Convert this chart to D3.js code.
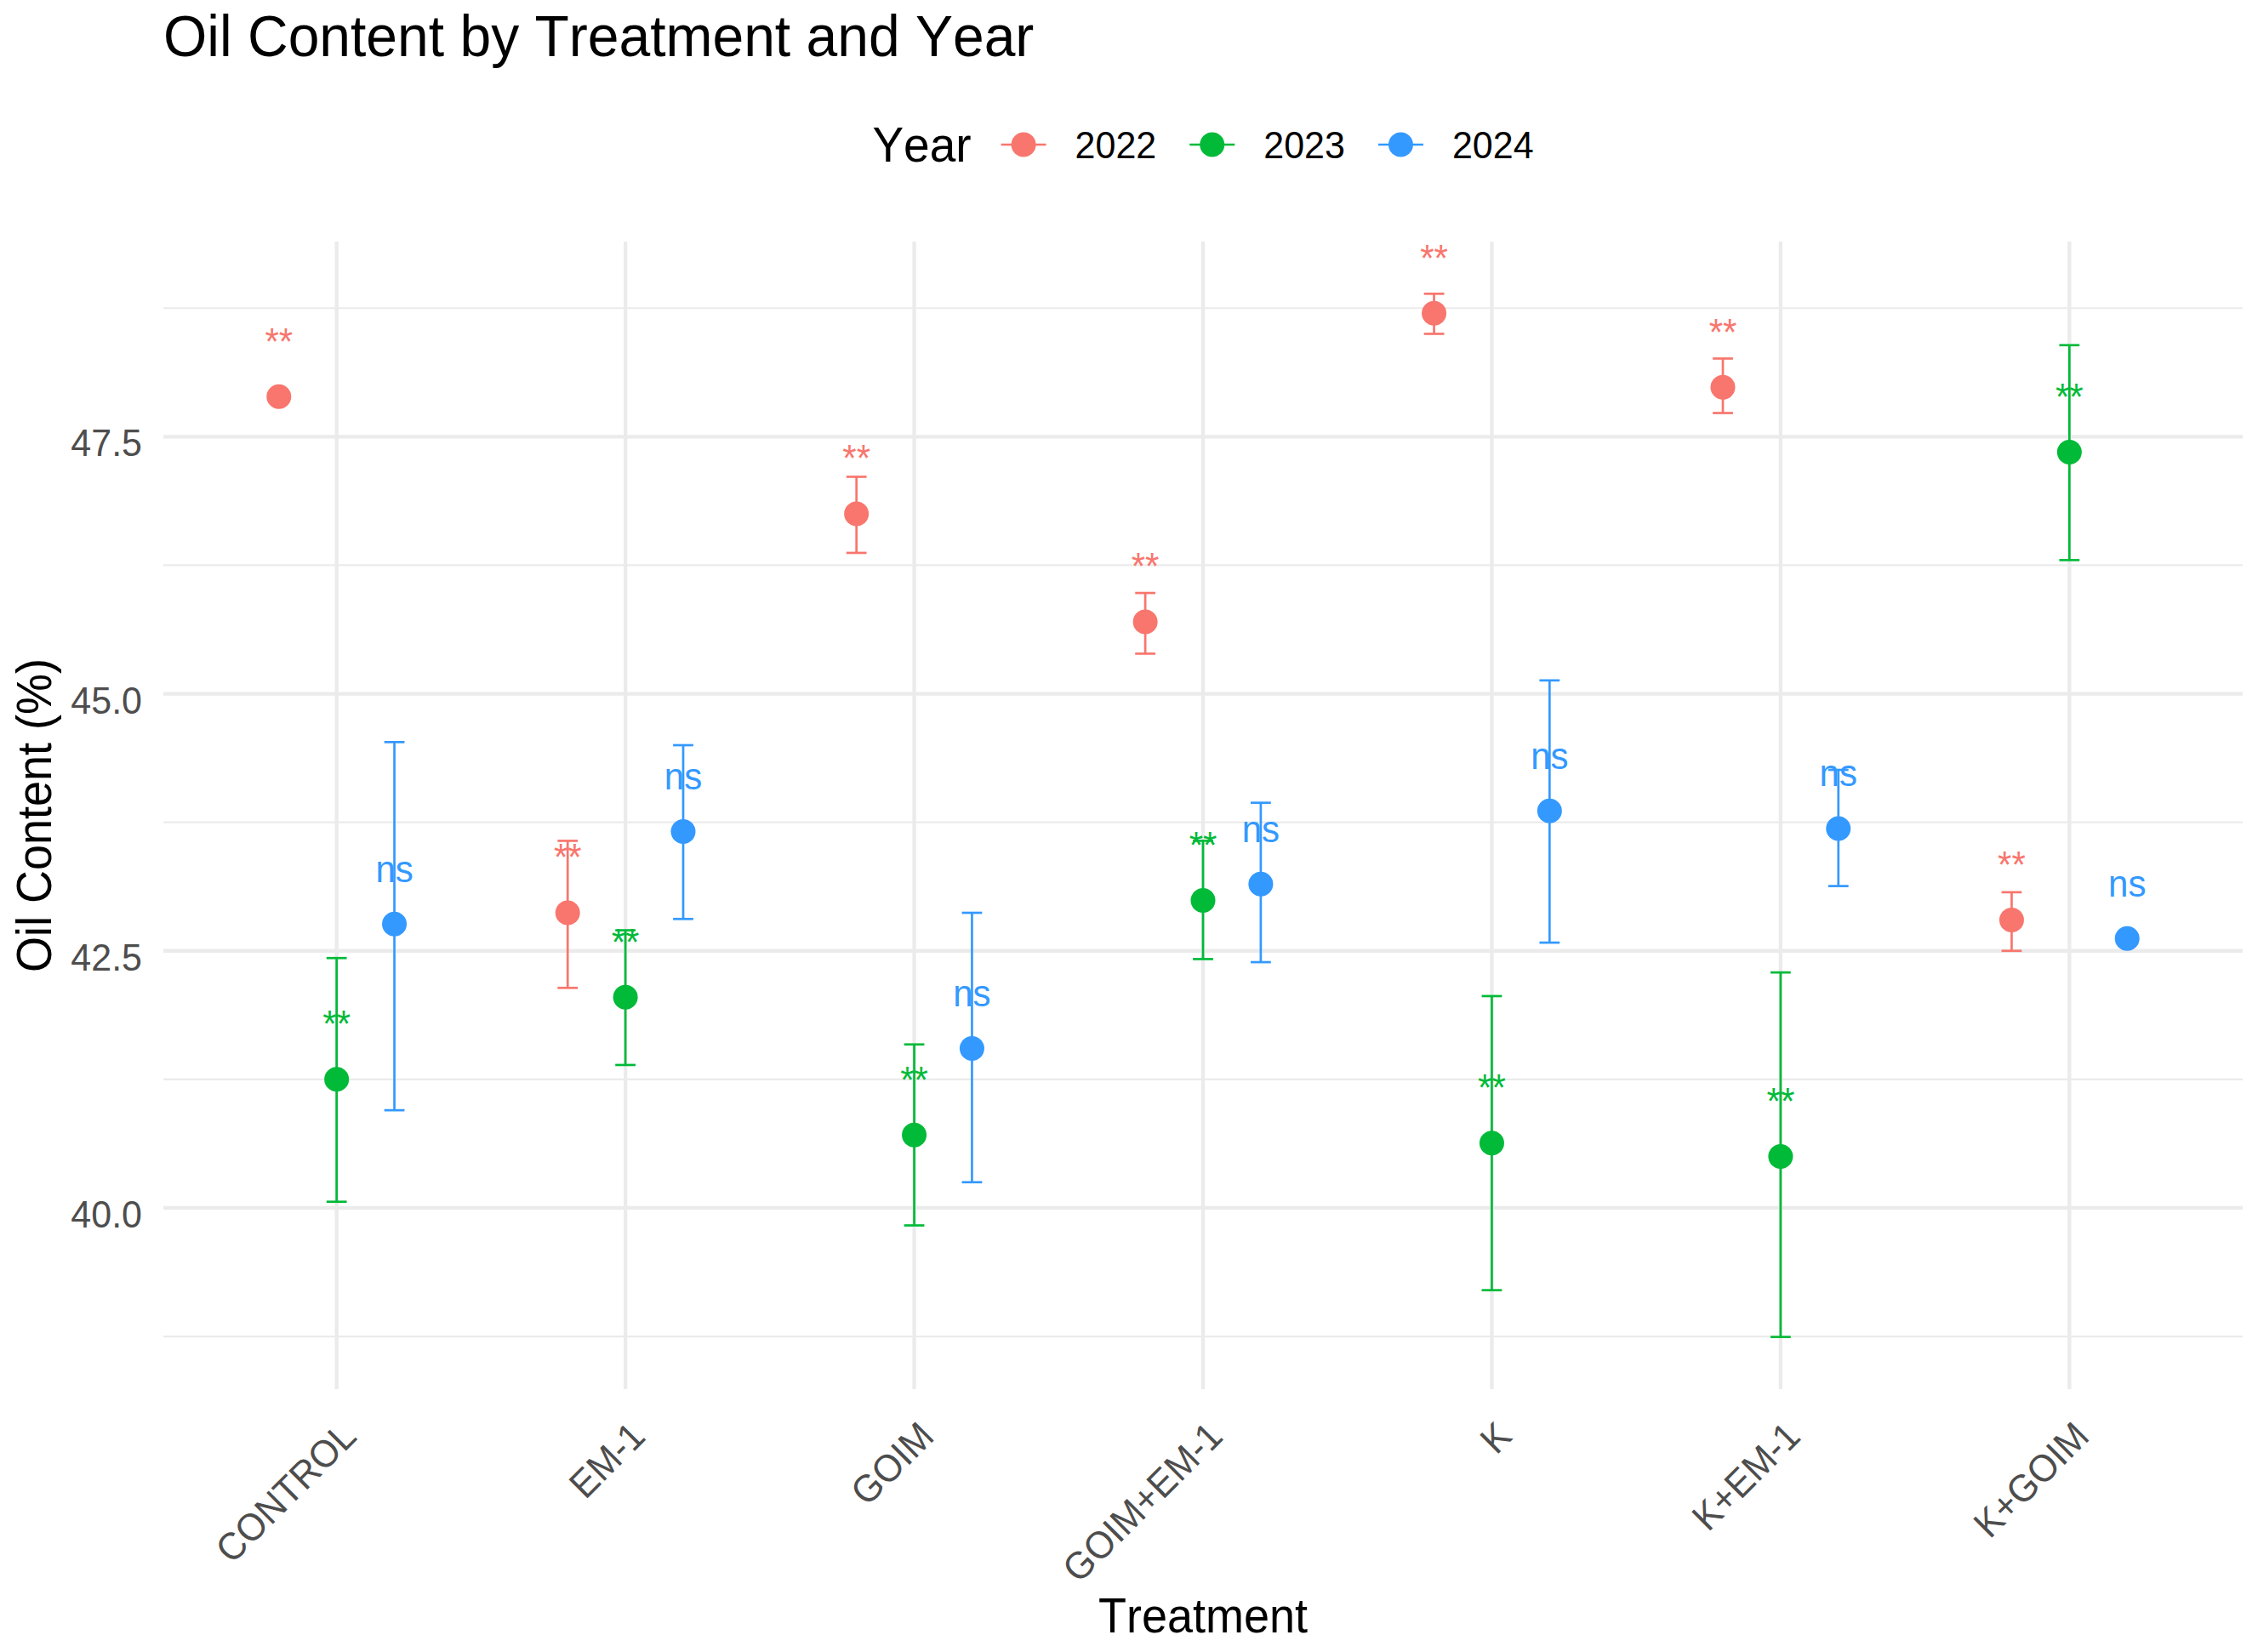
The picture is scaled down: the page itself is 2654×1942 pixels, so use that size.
<!DOCTYPE html>
<html>
<head>
<meta charset="utf-8">
<script src="https://cdn.jsdelivr.net/npm/d3@7"></script>
<style>
  html, body { margin: 0; padding: 0; background: #ffffff; }
  svg { display: block; }
  text { font-family: "Liberation Sans", Arial, sans-serif; font-kerning: none; font-feature-settings: "kern" 0; }
</style>
</head>
<body>
<div id="chart"></div>
<script>
// ---------------- data ----------------
const categories = ["CONTROL", "EM-1", "GOIM", "GOIM+EM-1", "K", "K+EM-1", "K+GOIM"];
const years = ["2022", "2023", "2024"];
const yearColors = ["#F8766D", "#00BA38", "#3399FF"];

const mean2022  = [47.89, 42.87, 46.75, 45.70, 48.70, 47.98, 42.80];
const lower2022 = [null,  42.14, 46.37, 45.39, 48.50, 47.73, 42.50];
const upper2022 = [null,  43.57, 47.11, 45.98, 48.89, 48.26, 43.07];
const sig2022   = ["**", "**", "**", "**", "**", "**", "**"];

const mean2023  = [41.25, 42.05, 40.71, 42.99, 40.63, 40.50, 47.35];
const lower2023 = [40.06, 41.39, 39.83, 42.42, 39.20, 38.745, 46.30];
const upper2023 = [42.43, 42.70, 41.59, 43.57, 42.06, 42.29, 48.39];
const sig2023   = ["**", "**", "**", "**", "**", "**", "**"];

const mean2024  = [42.76, 43.66, 41.55, 43.15, 43.86, 43.69, 42.62];
const lower2024 = [40.95, 42.81, 40.25, 42.39, 42.58, 43.13, null];
const upper2024 = [44.53, 44.50, 42.87, 43.94, 45.13, 44.26, null];
const sig2024   = ["ns", "ns", "ns", "ns", "ns", "ns", "ns"];

const yMajorTicks = [40, 42.5, 45, 47.5];
const yMinorTicks = [38.75, 41.25, 43.75, 46.25, 48.75];

const titleText = "Oil Content by Treatment and Year";
const xTitle = "Treatment";
const yTitle = "Oil Content (%)";
const legendTitle = "Year";

// ---------------- build rows ----------------
const seriesMeans = [mean2022, mean2023, mean2024];
const seriesLower = [lower2022, lower2023, lower2024];
const seriesUpper = [upper2022, upper2023, upper2024];
const seriesSig = [sig2022, sig2023, sig2024];

const rows = [];
years.forEach((yr, yi) => {
  categories.forEach((cat, ci) => {
    rows.push({
      cat, year: yr, yi,
      mean: seriesMeans[yi][ci],
      lo: seriesLower[yi][ci],
      hi: seriesUpper[yi][ci],
      sig: seriesSig[yi][ci]
    });
  });
});

// ---------------- layout ----------------
const W = 2654, H = 1942;
const panel = { left: 192, right: 2636, top: 284, bottom: 1633 };
const gridColor = "#EBEBEB";
const TS = 1.05; // slight vertical glyph stretch seen in the reference

const svg = d3.select("#chart").append("svg")
  .attr("width", W).attr("height", H)
  .attr("viewBox", `0 0 ${W} ${H}`);
svg.append("rect").attr("width", W).attr("height", H).attr("fill", "#ffffff");

// scales
const allLow = rows.map(r => r.lo != null ? r.lo : r.mean);
const allHigh = rows.map(r => r.hi != null ? r.hi : r.mean);
const dMin = d3.min(allLow), dMax = d3.max(allHigh);
const pad = (dMax - dMin) * 0.05;

const y = d3.scaleLinear().domain([dMin - pad, dMax + pad]).range([panel.bottom, panel.top]);
const x = d3.scalePoint().domain(categories).range([panel.left, panel.right]).padding(0.6);
const step = x.step();
const dodge = d3.scaleLinear().domain([0, years.length - 1]).range([-0.2 * step, 0.2 * step]);
const color = d3.scaleOrdinal().domain(years).range(yearColors);

// ---------------- grid ----------------
const grid = svg.append("g");
grid.selectAll("line.minor").data(yMinorTicks).enter().append("line")
  .attr("x1", panel.left).attr("x2", panel.right)
  .attr("y1", d => y(d)).attr("y2", d => y(d))
  .attr("stroke", gridColor).attr("stroke-width", 2.2);
grid.selectAll("line.majorY").data(yMajorTicks).enter().append("line")
  .attr("x1", panel.left).attr("x2", panel.right)
  .attr("y1", d => y(d)).attr("y2", d => y(d))
  .attr("stroke", gridColor).attr("stroke-width", 4.3);
grid.selectAll("line.majorX").data(categories).enter().append("line")
  .attr("x1", d => x(d)).attr("x2", d => x(d))
  .attr("y1", panel.top).attr("y2", panel.bottom)
  .attr("stroke", gridColor).attr("stroke-width", 4.3);

// ---------------- axes ----------------
const yAxis = svg.append("g")
  .attr("transform", `translate(${panel.left},0)`)
  .call(d3.axisLeft(y).tickValues(yMajorTicks).tickSize(0).tickPadding(25).tickFormat(d3.format(".1f")));
yAxis.select(".domain").remove();
yAxis.selectAll("text")
  .attr("font-size", 43).attr("fill", "#4D4D4D")
  .attr("font-family", "Liberation Sans, Arial, sans-serif")
  .attr("x", null).attr("dy", "0.5em")
  .attr("transform", `translate(-25,0) scale(1,${TS})`);

const xAxis = svg.append("g")
  .attr("transform", `translate(0,${panel.bottom})`)
  .call(d3.axisBottom(x).tickSize(0));
xAxis.select(".domain").remove();
xAxis.selectAll("text")
  .attr("font-size", 43).attr("fill", "#4D4D4D")
  .attr("font-family", "Liberation Sans, Arial, sans-serif")
  .attr("x", null).attr("y", null).attr("dy", null)
  .attr("text-anchor", "end")
  .attr("transform", `translate(25,58) rotate(-45) scale(1,${TS})`);

// ---------------- error bars ----------------
const cap = 0.07 * step;
const eb = svg.append("g");
const withErr = rows.filter(r => r.lo != null && r.hi != null);
eb.selectAll("line.v").data(withErr).enter().append("line")
  .attr("x1", d => x(d.cat) + dodge(d.yi)).attr("x2", d => x(d.cat) + dodge(d.yi))
  .attr("y1", d => y(d.lo)).attr("y2", d => y(d.hi))
  .attr("stroke", d => color(d.year)).attr("stroke-width", 2.7);
eb.selectAll("line.t").data(withErr).enter().append("line")
  .attr("x1", d => x(d.cat) + dodge(d.yi) - cap / 2).attr("x2", d => x(d.cat) + dodge(d.yi) + cap / 2)
  .attr("y1", d => y(d.hi)).attr("y2", d => y(d.hi))
  .attr("stroke", d => color(d.year)).attr("stroke-width", 2.7);
eb.selectAll("line.b").data(withErr).enter().append("line")
  .attr("x1", d => x(d.cat) + dodge(d.yi) - cap / 2).attr("x2", d => x(d.cat) + dodge(d.yi) + cap / 2)
  .attr("y1", d => y(d.lo)).attr("y2", d => y(d.lo))
  .attr("stroke", d => color(d.year)).attr("stroke-width", 2.7);

// ---------------- points ----------------
svg.append("g").selectAll("circle").data(rows).enter().append("circle")
  .attr("cx", d => x(d.cat) + dodge(d.yi))
  .attr("cy", d => y(d.mean))
  .attr("r", 14.5)
  .attr("fill", d => color(d.year));

// ---------------- significance labels ----------------
const labelOffset = 0.41; // data units above mean (text baseline)
svg.append("g").selectAll("text").data(rows).enter().append("text")
  .attr("transform", d => `translate(${x(d.cat) + dodge(d.yi)},${y(d.mean + labelOffset)}) scale(1,${TS})`)
  .attr("text-anchor", "middle")
  .attr("font-size", 42)
  .attr("fill", d => color(d.year))
  .text(d => d.sig);

// ---------------- titles ----------------
svg.append("text")
  .attr("transform", `translate(${panel.left},66) scale(1,${TS})`)
  .attr("font-size", 66).attr("fill", "#000000")
  .text(titleText);

svg.append("text")
  .attr("transform", `translate(${(panel.left + panel.right) / 2},1919) scale(1,${TS})`)
  .attr("text-anchor", "middle")
  .attr("font-size", 54).attr("fill", "#000000")
  .text(xTitle);

svg.append("text")
  .attr("transform", `translate(60,${(panel.top + panel.bottom) / 2}) rotate(-90) scale(1,${TS})`)
  .attr("text-anchor", "middle")
  .attr("font-size", 54).attr("fill", "#000000")
  .text(yTitle);

// ---------------- legend ----------------
const legY = 170;
const legend = svg.append("g");
const lt = legend.append("text")
  .attr("dy", "0.35em")
  .attr("font-size", 55).attr("fill", "#000000")
  .text(legendTitle);
const keyLen = 53, gapTitle = 35, gapKeyLabel = 34, gapItem = 39;
const items = years.map((yr, i) => {
  const g = legend.append("g");
  const t = g.append("text").attr("dy", "0.35em")
    .attr("font-size", 43).attr("fill", "#000000").text(yr);
  return { yr, g, t, w: t.node().getComputedTextLength() };
});
const titleW = lt.node().getComputedTextLength();
const totalW = titleW + gapTitle + d3.sum(items, d => keyLen + gapKeyLabel + d.w) + gapItem * (items.length - 1);
let cx = (panel.left + panel.right) / 2 - totalW / 2;
lt.attr("transform", `translate(${cx},${legY}) scale(1,${TS})`);
cx += titleW + gapTitle;
items.forEach((it, i) => {
  it.g.append("line")
    .attr("x1", cx).attr("x2", cx + keyLen)
    .attr("y1", legY).attr("y2", legY)
    .attr("stroke", color(it.yr)).attr("stroke-width", 2.7);
  it.g.append("circle")
    .attr("cx", cx + keyLen / 2).attr("cy", legY).attr("r", 14.5)
    .attr("fill", color(it.yr));
  cx += keyLen + gapKeyLabel;
  it.t.attr("transform", `translate(${cx},${legY}) scale(1,${TS})`);
  cx += it.w + gapItem;
});
</script>
</body>
</html>
